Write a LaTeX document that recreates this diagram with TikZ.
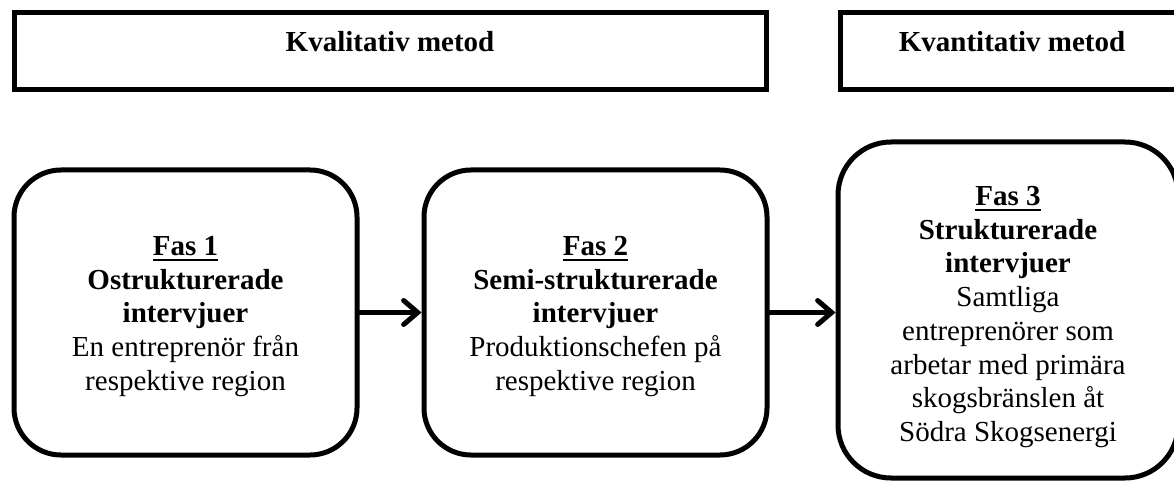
\documentclass[tikz,border=0pt]{standalone}
\usepackage{fontspec}
\setmainfont{Liberation Serif}
\usetikzlibrary{arrows.meta}
% underlined heading line: rule drawn under the text without changing its width
\newcommand{\fasline}[1]{{\setbox0\hbox{#1}\rlap{\vrule height -3.5pt depth 5.5pt width \wd0}\box0}}
\begin{document}
\begin{tikzpicture}[x=1pt,y=-1pt,
  hdrbox/.style={draw, line width=5pt, inner sep=0pt, minimum height=77.5pt},
  hdrtext/.style={font=\bfseries\fontsize{29}{34}\selectfont, inner sep=0pt, anchor=base},
  phasebox/.style={draw, line width=5pt, rounded corners=47pt, inner sep=0pt},
  phasetext/.style={align=center, font=\fontsize{29}{33.7}\selectfont, inner sep=0pt},
  flow/.style={line width=5pt, line cap=round, -{Straight Barb[length=14pt,width=24pt,line cap=round]}}]
\useasboundingbox (0,0) rectangle (1174,481);
\clip (0,0) rectangle (1174,481);

% method headers
\node[hdrbox, minimum width=752pt] (kval) at (390,51) {};
\node[hdrtext] (kvalT) at (390,52) {Kvalitativ metod};
\node[hdrbox, minimum width=344pt] (kvant) at (1012,51) {};
\node[hdrtext] (kvantT) at (1012,52) {Kvantitativ metod};

% interview phases
\node[phasebox, minimum width=343pt, minimum height=285pt] (fas1) at (185.5,312.5) {};
\node[phasetext, yshift=-4pt] (fas1T) at (fas1.center)
  {\fasline{\textbf{Fas 1}}\\\textbf{Ostrukturerade}\\\textbf{intervjuer}\\En entreprenör från\\respektive region};
\node[phasebox, minimum width=343pt, minimum height=285pt] (fas2) at (595.5,312.5) {};
\node[phasetext, yshift=-4pt] (fas2T) at (fas2.center)
  {\fasline{\textbf{Fas 2}}\\\textbf{Semi-strukturerade}\\\textbf{intervjuer}\\Produktionschefen på\\respektive region};
\node[phasebox, rounded corners=53pt, minimum width=340pt, minimum height=336pt] (fas3) at (1008,310) {};
\node[phasetext, yshift=-7pt] (fas3T) at (fas3.center)
  {\fasline{\textbf{Fas 3}}\\\textbf{Strukturerade}\\\textbf{intervjuer}\\Samtliga\\entreprenörer som\\arbetar med primära\\skogsbränslen åt\\Södra Skogsenergi};

% flow between phases
\draw[flow] (fas1.east) -- (fas2.west);
\draw[flow] (fas2.east) -- (fas3.west |- fas2.east);
\end{tikzpicture}
\end{document}
